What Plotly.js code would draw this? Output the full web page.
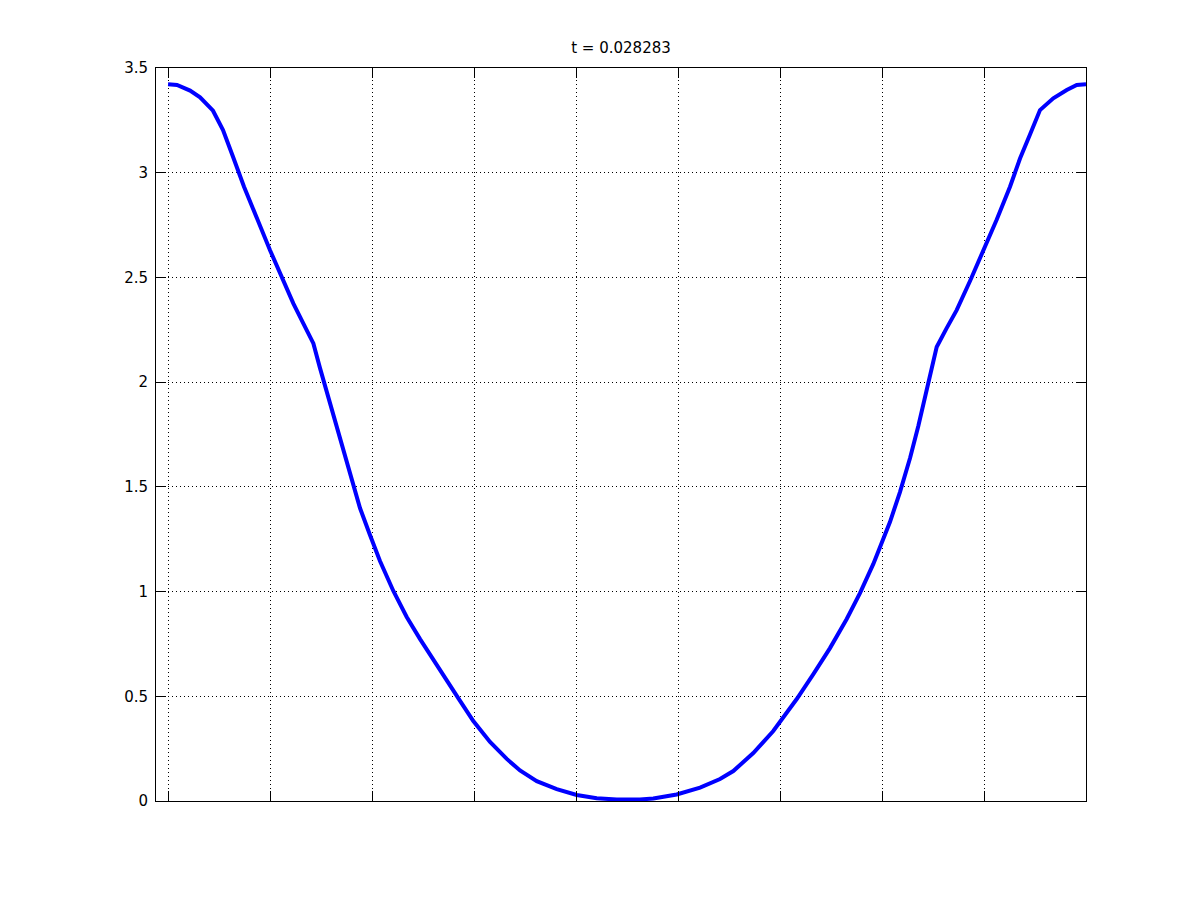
<!DOCTYPE html>
<html>
<head>
<meta charset="utf-8">
<script src="https://cdn.plot.ly/plotly-3.0.1.min.js"></script>
<style>html,body{margin:0;padding:0;background:#fff;}#chart{width:1200px;height:900px;}</style>
</head>
<body>
<div id="chart"></div>
<script>
// Curve samples (x in tick units, y = value)
var xValues = [0, 0.088, 0.216, 0.314, 0.441, 0.539, 0.637, 0.745, 1.0, 1.130, 1.228, 1.326, 1.425, 1.490, 1.556, 1.647, 1.686, 1.752, 1.817, 1.882, 1.980, 2.078, 2.209, 2.340, 2.471, 2.601, 2.732, 2.863, 2.993, 3.157, 3.321, 3.451, 3.615, 3.811, 4.007, 4.203, 4.399, 4.5,
  4.627, 4.758, 4.987, 5.216, 5.412, 5.542, 5.738, 5.934, 6.017, 6.164, 6.327, 6.490, 6.654, 6.784, 6.915, 6.997, 7.078, 7.176, 7.275, 7.356, 7.438, 7.503, 7.536, 7.634, 7.732, 7.863, 7.993, 8.124, 8.255, 8.353, 8.451, 8.549, 8.679, 8.811, 8.909, 9.0];
var yValues = [3.422, 3.419, 3.392, 3.360, 3.296, 3.204, 3.076, 2.933, 2.630, 2.488, 2.376, 2.281, 2.185, 2.067, 1.953, 1.791, 1.724, 1.609, 1.501, 1.399, 1.270, 1.146, 1.003, 0.879, 0.773, 0.673, 0.573, 0.478, 0.382, 0.282, 0.201, 0.146, 0.095, 0.057, 0.029, 0.013, 0.007, 0.005,
  0.007, 0.012, 0.031, 0.064, 0.105, 0.143, 0.229, 0.334, 0.387, 0.487, 0.606, 0.730, 0.869, 0.993, 1.132, 1.232, 1.332, 1.475, 1.638, 1.791, 1.962, 2.096, 2.168, 2.258, 2.344, 2.483, 2.624, 2.775, 2.933, 3.068, 3.182, 3.299, 3.355, 3.395, 3.419, 3.422];
var xTickVals = [0, 1, 2, 3, 4, 5, 6, 7, 8, 9];
var yTickVals = [0, 0.5, 1, 1.5, 2, 2.5, 3, 3.5];
var yTickText = ["0", "0.5", "1", "1.5", "2", "2.5", "3", "3.5"];
var titleText = "t = 0.028283";

var font = {family: "DejaVu Sans, Liberation Sans, sans-serif", size: 15, color: "#000"};

var trace = {
  x: xValues, y: yValues, type: "scatter", mode: "lines",
  line: {color: "#0000ff", width: 4},
  hoverinfo: "skip"
};

var axisCommon = {
  showline: true, linecolor: "#000", linewidth: 1, mirror: "ticks",
  ticks: "inside", ticklen: 10, tickwidth: 1, tickcolor: "#000",
  showgrid: true, gridcolor: "#000", gridwidth: 1, griddash: "1px,3px",
  zeroline: false, tickfont: font
};

var layout = {
  width: 1200, height: 900,
  paper_bgcolor: "#fff", plot_bgcolor: "#fff",
  margin: {l: 156, r: 114, t: 68, b: 99, pad: 0},
  showlegend: false,
  font: font,
  title: {text: titleText, font: font, xref: "paper", x: 0.5, xanchor: "center",
          yref: "container", y: 1 - 52.7 / 900, yanchor: "bottom"},
  xaxis: Object.assign({}, axisCommon, {
    range: [-0.118, 9], tickmode: "array", tickvals: xTickVals, showticklabels: false
  }),
  yaxis: Object.assign({}, axisCommon, {
    range: [0, 3.5], tickmode: "array", tickvals: yTickVals, ticktext: yTickText, ticklabelstandoff: 4
  })
};

Plotly.newPlot("chart", [trace], layout, {displayModeBar: false, staticPlot: true});
</script>
</body>
</html>
